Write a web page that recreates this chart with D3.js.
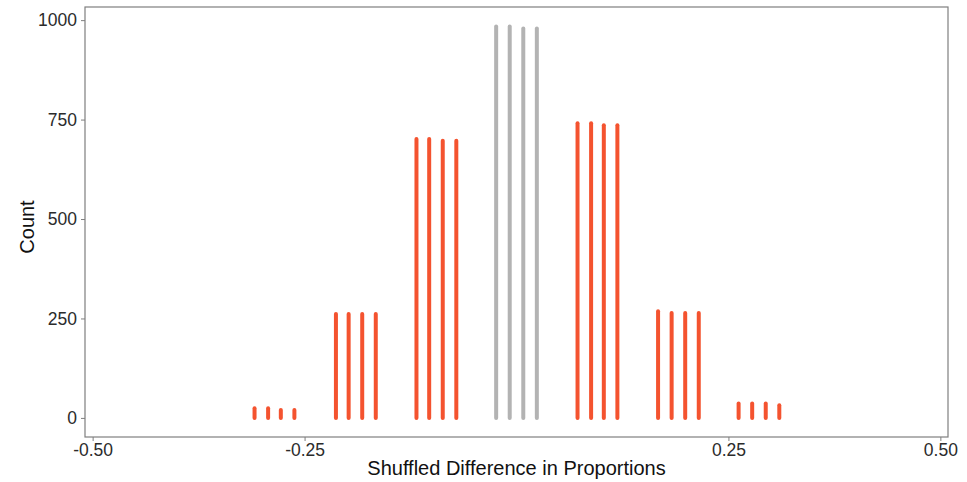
<!DOCTYPE html>
<html>
<head>
<meta charset="utf-8">
<script src="https://cdn.jsdelivr.net/npm/d3@7"></script>
<style>
  html, body { margin: 0; padding: 0; background: #fff; }
  text { font-family: "Liberation Sans", Arial, Helvetica, sans-serif; }
</style>
</head>
<body>
<svg id="chart" width="967" height="482"></svg>
<script>
'use strict';

// shuffled differences (x position of each line)
const diffs = [
  -0.309, -0.293, -0.278, -0.262,
  -0.213, -0.198, -0.182, -0.166,
  -0.118, -0.103, -0.087, -0.071,
  -0.024, -0.008, 0.008, 0.024,
  0.072, 0.088, 0.103, 0.119,
  0.167, 0.183, 0.199, 0.215,
  0.262, 0.278, 0.294, 0.310
];
const counts = [
  24, 24, 20, 20,
  261, 261, 261, 261,
  701, 701, 697, 697,
  984, 984, 979, 979,
  741, 741, 736, 736,
  268, 264, 264, 264,
  36, 36, 36, 32
];
// true for the middle group, drawn in grey
const isCenter = [
  false, false, false, false,
  false, false, false, false,
  false, false, false, false,
  true, true, true, true,
  false, false, false, false,
  false, false, false, false,
  false, false, false, false
];
const xTicks = [-0.5, -0.25, 0.25, 0.5];
const yTicks = [0, 250, 500, 750, 1000];

const svg = d3.select('#chart');
const mLeft = 85, mRight = 948, mTop = 7, mBottom = 437;

const x = d3.scaleLinear()
  .domain([-0.509, 0.509])
  .range([mLeft, mRight]);

const y = d3.scaleLinear()
  .domain([-48, 1033])
  .range([mBottom, mTop]);

const data = diffs.map((d, i) => ({ x: d, n: counts[i], mid: isCenter[i] }));

svg.append('g')
  .selectAll('line')
  .data(data)
  .enter().append('line')
  .attr('x1', d => x(d.x))
  .attr('x2', d => x(d.x))
  .attr('y1', y(0))
  .attr('y2', d => y(d.n))
  .attr('stroke', d => d.mid ? '#b3b3b3' : '#f4532f')
  .attr('stroke-width', 4)
  .attr('stroke-linecap', 'round');

// panel border
svg.append('rect')
  .attr('x', mLeft)
  .attr('y', mTop)
  .attr('width', mRight - mLeft)
  .attr('height', mBottom - mTop)
  .attr('fill', 'none')
  .attr('stroke', '#7f7f7f')
  .attr('stroke-width', 1.2);

svg.append('g')
  .attr('transform', `translate(0,${mBottom})`)
  .call(d3.axisBottom(x)
    .tickValues(xTicks)
    .tickSize(4)
    .tickPadding(3)
    .tickFormat(d => d.toFixed(2)))
  .call(g => g.select('.domain').remove())
  .call(g => g.selectAll('line').attr('stroke', '#7f7f7f'))
  .call(g => g.selectAll('text')
    .attr('fill', '#2b2b2b')
    .style('font-size', '17.5px'));

svg.append('g')
  .attr('transform', `translate(${mLeft},0)`)
  .call(d3.axisLeft(y)
    .tickValues(yTicks)
    .tickSize(4)
    .tickPadding(4)
    .tickFormat(d3.format('d')))
  .call(g => g.select('.domain').remove())
  .call(g => g.selectAll('line').attr('stroke', '#7f7f7f'))
  .call(g => g.selectAll('text')
    .attr('fill', '#2b2b2b')
    .style('font-size', '17.5px'));

svg.append('text')
  .attr('x', (mLeft + mRight) / 2)
  .attr('y', 475)
  .attr('text-anchor', 'middle')
  .attr('fill', '#111')
  .style('font-size', '20px')
  .text('Shuffled Difference in Proportions');

svg.append('text')
  .attr('transform', `translate(34,${(mTop + mBottom) / 2 + 5}) rotate(-90)`)
  .attr('text-anchor', 'middle')
  .attr('fill', '#111')
  .style('font-size', '20px')
  .text('Count');
</script>
</body>
</html>
